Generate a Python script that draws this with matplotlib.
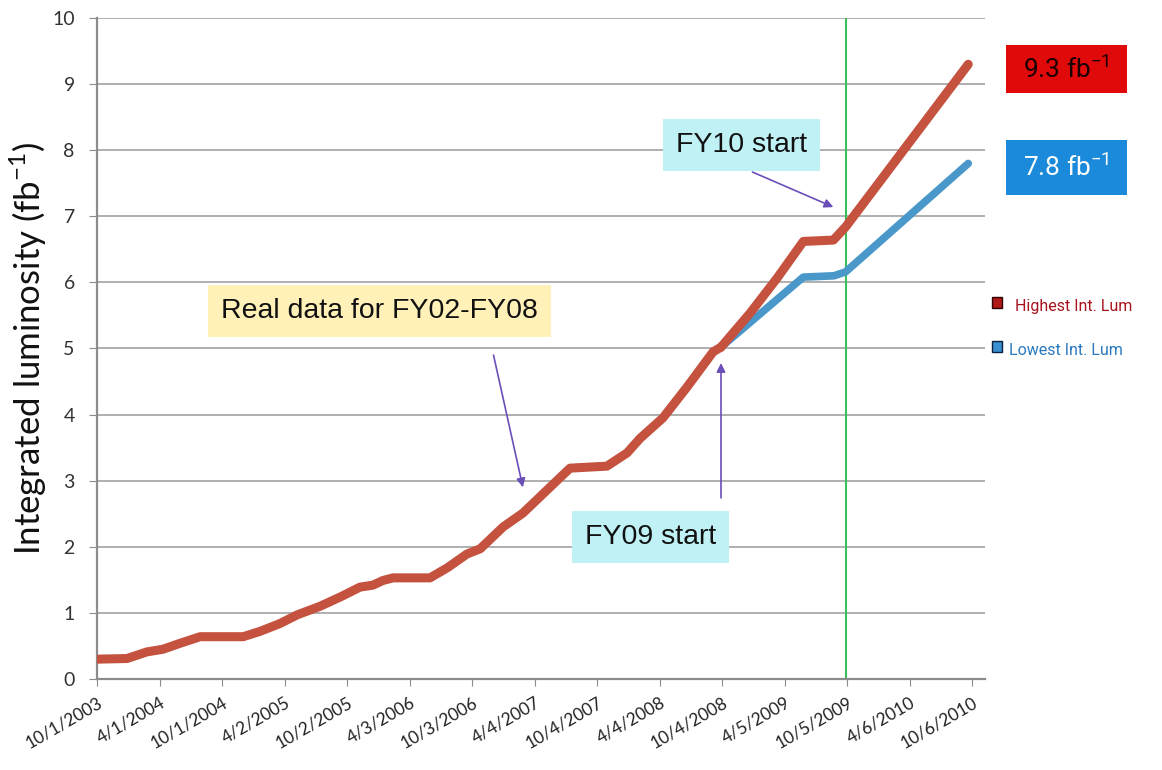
import numpy as np
import matplotlib.pyplot as plt
import matplotlib.dates as mdates
from matplotlib.patches import Rectangle
from datetime import datetime

plt.rcParams['font.family'] = ['Lato', 'DejaVu Sans']

# measured integrated luminosity, FY02-FY08
real_dates = ["2003-10-01", "2003-12-28", "2004-02-24", "2004-04-11", "2004-05-31",
              "2004-07-29", "2004-12-02", "2005-01-20", "2005-03-20", "2005-05-09",
              "2005-07-15", "2005-09-12", "2005-11-09", "2005-12-17", "2006-01-15",
              "2006-02-14", "2006-06-02", "2006-07-22", "2006-09-18", "2006-10-27",
              "2007-01-02", "2007-03-01", "2007-05-11", "2007-07-17", "2007-11-02",
              "2007-12-31", "2008-02-07", "2008-04-14", "2008-06-24", "2008-09-08",
              "2008-10-01"]
real_lum = [0.30, 0.31, 0.41, 0.45, 0.54,
            0.64, 0.64, 0.72, 0.84, 0.97,
            1.10, 1.24, 1.39, 1.42, 1.49,
            1.53, 1.53, 1.68, 1.89, 1.97,
            2.30, 2.51, 2.86, 3.19, 3.22,
            3.42, 3.64, 3.95, 4.42, 4.95,
            5.02]

# projections FY09-FY10
high_dates = ["2008-10-01", "2008-12-26", "2009-03-15", "2009-05-30", "2009-08-26",
              "2009-10-01", "2010-09-25"]
high_lum = [5.02, 5.54, 6.07, 6.62, 6.64, 6.84, 9.30]

low_dates = ["2008-10-01", "2009-05-30", "2009-08-28", "2009-10-01", "2010-09-25"]
low_lum = [5.02, 6.08, 6.10, 6.16, 7.80]

tick_dates = ["2003-10-01", "2004-04-01", "2004-10-01", "2005-04-02", "2005-10-02",
              "2006-04-03", "2006-10-03", "2007-04-04", "2007-10-04", "2008-04-04",
              "2008-10-04", "2009-04-05", "2009-10-05", "2010-04-06", "2010-10-06"]
fy10_start = "2009-10-01"


def to_dt(lst):
    return [datetime.strptime(s, "%Y-%m-%d") for s in lst]


red = '#C4523F'
blue = '#4A98C9'
purple = '#6B4FB8'

fig = plt.figure(figsize=(11.62, 7.70), dpi=100)
ax = fig.add_axes([97 / 1162, 91 / 770, (985 - 97) / 1162, (679 - 18) / 770])

ax.plot(to_dt(low_dates), low_lum, color=blue, lw=5.5, solid_capstyle='round', zorder=3)
ax.plot(to_dt(high_dates), high_lum, color=red, lw=6.5, solid_capstyle='round', zorder=4)
ax.plot(to_dt(real_dates), real_lum, color=red, lw=6.5, solid_capstyle='round',
        solid_joinstyle='round', zorder=4)

ax.axvline(to_dt([fy10_start])[0], color='#3DBE5A', lw=1.5, zorder=2)

ax.set_ylim(0, 10)
ax.set_yticks(range(0, 11))
ax.set_xlim(datetime(2003, 10, 1), datetime(2010, 11, 13))
ax.set_xticks(to_dt(tick_dates))
ax.set_xticklabels([f"{d.month}/{d.day}/{d.year}" for d in to_dt(tick_dates)],
                   rotation=30, ha='right', rotation_mode='anchor', fontsize=12.5,
                   color='#222222')
ax.tick_params(axis='y', labelsize=14, labelcolor='#333333', length=6,
               color='#8C8C8C', pad=10)
ax.tick_params(axis='x', length=5, color='#8C8C8C', pad=6)

ax.grid(axis='y', color='#9A9A9A', lw=1.1)
ax.set_axisbelow(True)
for side in ('top', 'right'):
    ax.spines[side].set_visible(False)
for side in ('left', 'bottom'):
    ax.spines[side].set_color('#8C8C8C')
    ax.spines[side].set_linewidth(1.6)

ax.set_ylabel(r"Integrated luminosity (fb$^{\mathregular{-1}}$)", fontsize=25,
              color='#111111', labelpad=2)

# callout boxes with arrows
box_font = dict(family=['Liberation Sans', 'DejaVu Sans'], fontsize=20.5, color='#111111',
                ha='center', va='center', zorder=6)
ax.text(datetime(2006, 1, 5), 5.57, "Real data for FY02-FY08",
        bbox=dict(boxstyle='square,pad=0.45', fc='#FFF1B8', ec='none'), **box_font)
ax.text(datetime(2008, 3, 8), 2.15, "FY09 start",
        bbox=dict(boxstyle='square,pad=0.45', fc='#BFF1F5', ec='none'), **box_font)
ax.text(datetime(2008, 11, 30), 8.08, "FY10 start",
        bbox=dict(boxstyle='square,pad=0.45', fc='#BFF1F5', ec='none'), **box_font)

arrow = dict(arrowstyle='-|>', color=purple, lw=1.2, mutation_scale=13,
             shrinkA=0, shrinkB=0)
ax.annotate('', xy=(datetime(2007, 3, 1), 2.90), xytext=(datetime(2006, 12, 5), 4.90),
            arrowprops=arrow, zorder=5)
ax.annotate('', xy=(datetime(2008, 10, 1), 4.78), xytext=(datetime(2008, 10, 1), 2.74),
            arrowprops=arrow, zorder=5)
ax.annotate('', xy=(datetime(2009, 8, 26), 7.14), xytext=(datetime(2009, 1, 1), 7.67),
            arrowprops=arrow, zorder=5)

# end values and legend to the right of the plot
W, H = 1162, 770


def fig_rect(x0, y0, x1, y1, color, edge='none'):
    fig.patches.append(Rectangle((x0 / W, 1 - y1 / H), (x1 - x0) / W, (y1 - y0) / H,
                                 transform=fig.transFigure, fc=color, ec=edge, lw=1))


fig_rect(1006, 45, 1127, 93, '#E00A0A')
fig.text(1066 / W, 1 - 69 / H, r"9.3 fb$^{\mathregular{-1}}$", ha='center', va='center',
         fontsize=19, color='#1A0000', family=['Roboto', 'DejaVu Sans'])
fig_rect(1006, 140, 1127, 195, '#1C8ADB')
fig.text(1066 / W, 1 - 167 / H, r"7.8 fb$^{\mathregular{-1}}$", ha='center', va='center',
         fontsize=19, color='white', family=['Roboto', 'DejaVu Sans'])

fig_rect(992, 297, 1002, 308, '#B01818', edge='#300000')
fig.text(1015 / W, 1 - 306 / H, "Highest Int. Lum", ha='left', va='center', fontsize=11.5,
         color='#A8141E', family=['Roboto', 'DejaVu Sans'])
fig_rect(992, 341, 1002, 352, '#3A8FD0', edge='#0A2040')
fig.text(1009 / W, 1 - 350 / H, "Lowest Int. Lum", ha='left', va='center', fontsize=11.5,
         color='#2A78BE', family=['Roboto', 'DejaVu Sans'])

fig.savefig('out.png', dpi=100)
